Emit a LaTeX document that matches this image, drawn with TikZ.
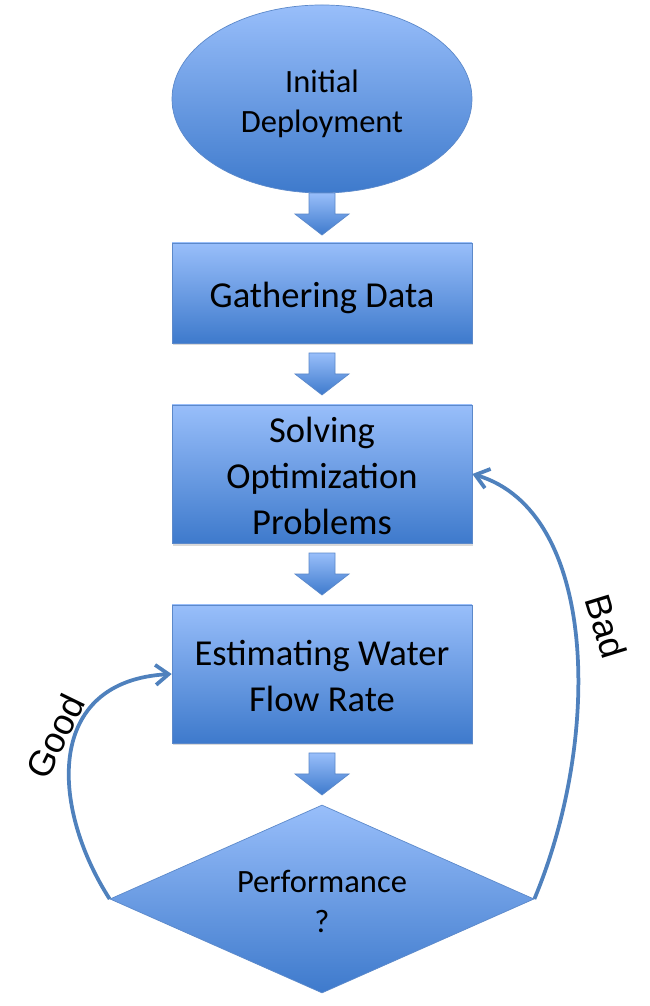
\documentclass[tikz,border=0pt]{standalone}
\usepackage{fontspec}
\setmainfont{Carlito}
\newfontfamily\lblfont{Liberation Sans}
\usepackage{tikz}
\usetikzlibrary{shapes.geometric,calc,shadows,arrows.meta}
\definecolor{boxtop}{RGB}{152,190,250}
\definecolor{boxbot}{RGB}{62,122,204}
\definecolor{boxline}{RGB}{92,137,202}
\definecolor{linkblue}{RGB}{79,129,189}
\newcommand{\stagetext}[1]{\raisebox{-0.11cm}[\height][\depth]{\begin{tabular}{@{}c@{}}#1\end{tabular}}}

\begin{document}
\begin{tikzpicture}[
    stage/.style={shape=rectangle, draw=boxline, top color=boxtop, bottom color=boxbot,
      minimum width=6cm, inner sep=0pt,
      font=\fontsize{20.8}{26.2}\selectfont,
      drop shadow={shadow xshift=0.02cm, shadow yshift=-0.05cm, opacity=0.3}},
    start/.style={shape=ellipse, draw=boxline, top color=boxtop, bottom color=boxbot,
      minimum width=6cm, minimum height=3.76cm, inner sep=0pt,
      font=\fontsize{18.5}{22.8}\selectfont},
    check/.style={shape=diamond, draw=boxline, top color=boxtop, bottom color=boxbot,
      aspect=2.25, minimum width=8.48cm, minimum height=3.76cm, inner sep=0pt,
      font=\fontsize{18.5}{22.8}\selectfont},
    blockarr/.style={draw=boxline, top color=boxtop, bottom color=boxbot},
    feedback/.style={draw=linkblue, line width=0.075cm, -{Straight Barb[length=0.26cm,width=0.4cm]}},
    lbl/.style={font=\lblfont\fontsize{20.5}{24}\selectfont}]
    \useasboundingbox (0,0) rectangle (12.98,20.12);

    \node[start] (init) at (6.44,18.14) {\stagetext{Initial\\Deployment}};
    \node[stage, minimum height=2cm] (gather) at (6.44,14.26) {\stagetext{Gathering Data}};
    \node[stage, minimum height=2.76cm] (solve) at (6.44,10.64) {\stagetext{Solving\\Optimization\\Problems}};
    \node[stage, minimum height=2.76cm] (est) at (6.44,6.64) {\stagetext{Estimating Water\\Flow Rate}};
    \node[check] (perf) at (6.44,2.14) {\stagetext{Performance\\?}};

    % block arrows between the stages
    \draw[blockarr, shift={($(init.south)!0.42!(gather.north)$)}] (-0.26,0.42) -- (0.26,0.42) -- (0.26,0) -- (0.54,0) -- (0,-0.42) -- (-0.54,0) -- (-0.26,0) -- cycle;
    \draw[blockarr, shift={($(gather.south)!0.5!(solve.north)$)}] (-0.26,0.42) -- (0.26,0.42) -- (0.26,0) -- (0.54,0) -- (0,-0.42) -- (-0.54,0) -- (-0.26,0) -- cycle;
    \draw[blockarr, shift={($(solve.south)!0.5!(est.north)$)}] (-0.26,0.42) -- (0.26,0.42) -- (0.26,0) -- (0.54,0) -- (0,-0.42) -- (-0.54,0) -- (-0.26,0) -- cycle;
    \draw[blockarr, shift={($(est.south)!0.5!(perf.north)$)}] (-0.26,0.42) -- (0.26,0.42) -- (0.26,0) -- (0.54,0) -- (0,-0.42) -- (-0.54,0) -- (-0.26,0) -- cycle;

    % feedback loops
    \draw[feedback] (perf.west) .. controls (1.0,4.0) and (0.9,6.5) .. (est.west);
    \draw[feedback] (perf.east) .. controls (12.05,5.4) and (11.95,9.9) .. (solve.east);

    \node[lbl, rotate=64] (good) at (1.1,5.4) {Good};
    \node[lbl, rotate=-73] (bad) at (12.12,7.6) {Bad};
  \end{tikzpicture}
\end{document}
